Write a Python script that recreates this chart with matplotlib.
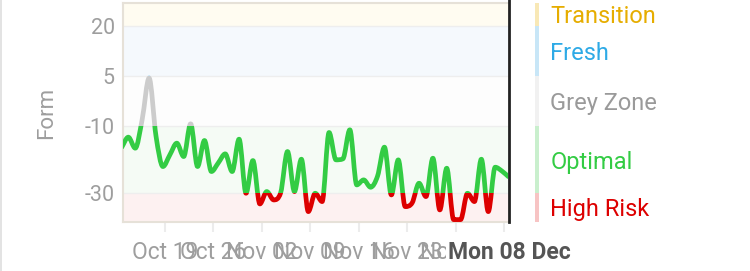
import numpy as np
import matplotlib
matplotlib.use("Agg")
import matplotlib.pyplot as plt
from matplotlib.path import Path
from matplotlib.patches import PathPatch, Rectangle

plt.rcParams['font.family'] = ['Roboto', 'DejaVu Sans']

# daily form values, day 0 = 19 Oct (last day = 08 Dec)
days = np.arange(-7, 50)
form = [-16.5, -13.3, -16.6, -8.0, 4.4, -13.0, -22.1,
        -18.6, -15.1, -19.1, -9.3, -22.1, -14.3, -23.6,
        -21.0, -18.3, -23.6, -13.9, -30.1, -20.3, -33.3,
        -29.6, -32.1, -30.0, -17.6, -29.6, -19.9, -35.6,
        -30.1, -32.6, -11.9, -20.1, -19.8, -11.1, -27.6,
        -26.1, -28.3, -25.0, -16.3, -30.6, -20.1, -34.1,
        -33.0, -27.1, -31.1, -19.6, -35.1, -22.6, -38.0,
        -38.0, -30.1, -32.6, -19.9, -35.6, -22.3, -23.5,
        -25.3]

tick_labels = ["Oct 19", "Oct 26", "Nov 02", "Nov 09", "Nov 16", "Nov 23", "Nov 30", "Dec 07"]
today_label = "Mon 08 Dec"

zones = ["Transition", "Fresh", "Grey Zone", "Optimal", "High Risk"]
zone_lo = [20, 5, -10, -30, -38.7]
zone_hi = [26.9, 20, 5, -10, -30]
zone_bg = ["#fffcf1", "#f5f9fd", "#fdfdfd", "#f5fbf5", "#fdf1f1"]
zone_strip = ["#f8e8b6", "#c8e6f7", "#f1f1f1", "#c9efcd", "#f7c4c4"]
zone_text = ["#e6ad00", "#2eaae6", "#9a9a9a", "#33cc44", "#dd0000"]
zone_line = ["#cccccc", "#2eaae6", "#cccccc", "#33cc44", "#dd0000"]

fig = plt.figure(figsize=(7.5, 2.71), dpi=100)
ax = fig.add_axes([0.164, 0.181, 0.5147, 0.808])
x0, x1 = -6.77, 48.85
ax.set_xlim(x0, x1)
ax.set_ylim(-38.7, 26.9)

for lo, hi, c in zip(zone_lo, zone_hi, zone_bg):
    ax.axhspan(lo, hi, color=c, lw=0, zorder=0)
for y in [20, 5, -10, -30]:
    ax.axhline(y, color="#eeeeee", lw=1, zorder=1)

# smooth monotone curve through the daily points
x = days.astype(float)
y = np.array(form)
d = np.diff(y)
m = np.zeros_like(y)
m[0], m[-1] = d[0], d[-1]
for i in range(1, len(y) - 1):
    m[i] = 0 if d[i - 1] * d[i] <= 0 else (d[i - 1] + d[i]) / 2
for i in range(len(d)):
    if d[i] == 0:
        m[i] = m[i + 1] = 0
        continue
    a, b = m[i] / d[i], m[i + 1] / d[i]
    s = a * a + b * b
    if s > 9:
        t = 3 / np.sqrt(s)
        m[i], m[i + 1] = t * a * d[i], t * b * d[i]
verts = [(x[0], y[0])]
codes = [Path.MOVETO]
for i in range(len(d)):
    h = x[i + 1] - x[i]
    verts += [(x[i] + h / 3, y[i] + m[i] * h / 3),
              (x[i + 1] - h / 3, y[i + 1] - m[i + 1] * h / 3),
              (x[i + 1], y[i + 1])]
    codes += [Path.CURVE4] * 3
curve = Path(verts, codes)

for lo, hi, c in zip(zone_lo, zone_hi, zone_line):
    p = PathPatch(curve, fc="none", ec=c, lw=3.4, capstyle="butt", joinstyle="round", zorder=3)
    ax.add_patch(p)
    clip = Rectangle((x0, lo), x1 - x0, hi - lo, transform=ax.transData)
    p.set_clip_path(clip)

# axes styling
for s in ["left", "top", "bottom"]:
    ax.spines[s].set_color("#e6e1d8")
    ax.spines[s].set_linewidth(1.5)
ax.spines["right"].set_visible(False)
ax.plot([1, 1], [0, 1.015], transform=ax.transAxes, color="#222222", lw=2, clip_on=False, zorder=5)

ax.set_yticks([20, 5, -10, -30])
ax.set_yticklabels(["20", "5", "-10", "-30"])
ax.tick_params(axis="y", length=0, pad=6, labelsize=15.5, labelcolor="#9e9e9e")

# weekly ticks plus today's label as the last tick
xt = list(np.arange(len(tick_labels)) * 7 - 0.72) + [49]
ax.set_xticks(xt)
ax.set_xticklabels(tick_labels + [today_label])
ax.tick_params(axis="x", length=7, width=1.5, color="#ececec", pad=7, labelsize=16.5, labelcolor="#9e9e9e")
ticks = ax.xaxis.get_major_ticks()
ticks[-1].tick1line.set_visible(False)
lab = ticks[-1].label1
lab.set_fontweight("bold")
lab.set_color("#555555")
lab.set_fontsize(16.5)
lab.set_bbox(dict(fc="white", ec="none", pad=1))
lab.set_zorder(10)

ax.set_ylabel("Form", fontsize=16, color="#9e9e9e", labelpad=20)

# zone legend on the right
for name, lo, hi, sc, tc in zip(zones, zone_lo, zone_hi, zone_strip, zone_text):
    ax.add_patch(Rectangle((1.066, lo), 0.011, hi - lo, transform=ax.get_yaxis_transform(),
                           color=sc, lw=0, clip_on=False))
    ax.text(1.107, (lo + hi) / 2, name, transform=ax.get_yaxis_transform(), ha="left",
            va="center_baseline", fontsize=17, color=tc, clip_on=False)

fig.add_artist(Rectangle((0, 0), 0.003, 1, transform=fig.transFigure, color="#e3e3e3", lw=0))

fig.savefig("out.png", dpi=100)
